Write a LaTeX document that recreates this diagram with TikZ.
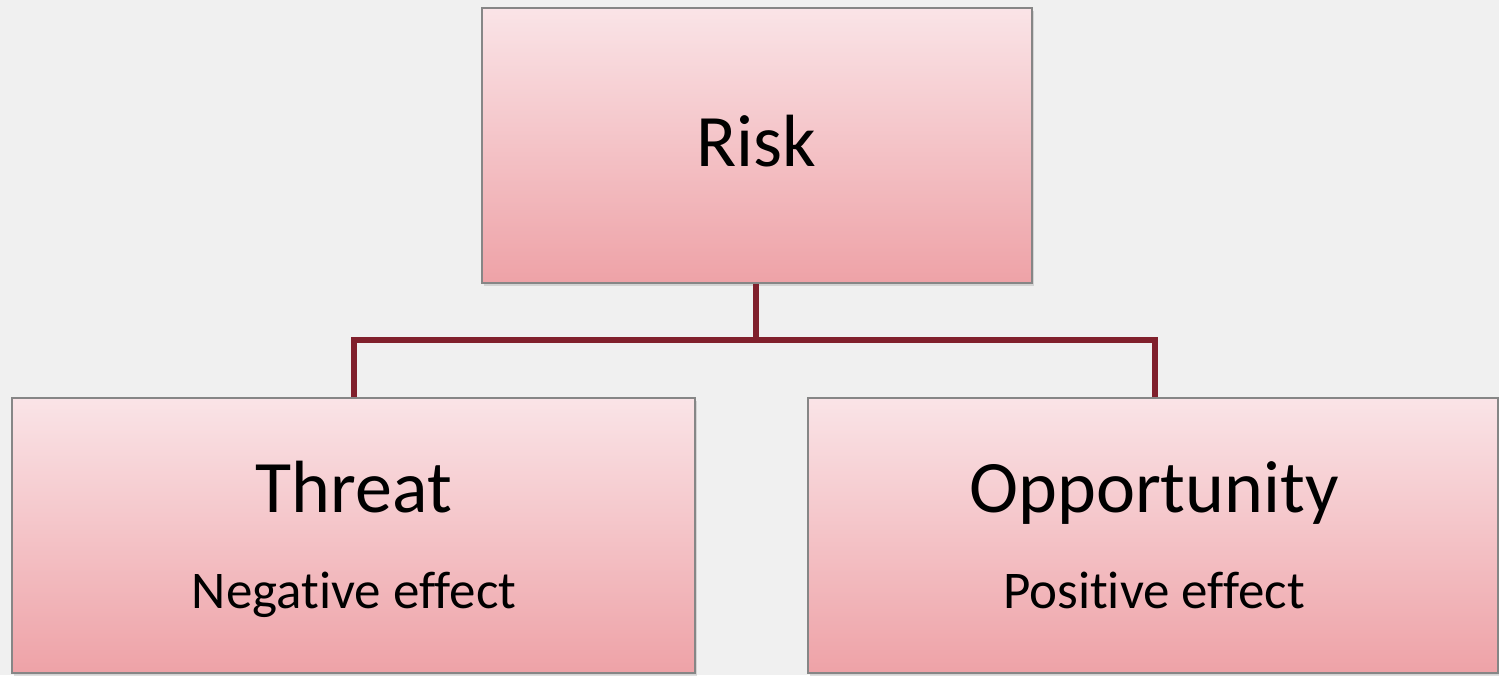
\documentclass[tikz,border=0pt]{standalone}
\usepackage{fontspec}
\setmainfont{Carlito}[Ligatures=NoCommon]
\usetikzlibrary{shadows}
\definecolor{bg}{HTML}{F0F0F0}
\definecolor{boxtop}{HTML}{FAE4E7}
\definecolor{boxbot}{HTML}{EEA2A7}
\definecolor{boxline}{HTML}{868686}
\definecolor{conn}{HTML}{80202C}
\tikzset{
  box/.style={draw=boxline, line width=1.8pt, top color=boxtop, bottom color=boxbot,
    rectangle, inner sep=0pt, anchor=north west,
    drop shadow={opacity=0.25, shadow xshift=2pt, shadow yshift=-3pt}},
  bigtext/.style={anchor=base, inner sep=0pt, font=\fontsize{74}{86}\selectfont},
  smalltext/.style={anchor=base, inner sep=0pt, font=\fontsize{53}{62}\selectfont},
  link/.style={draw=conn, line width=5.5pt}
}
\begin{document}
\begin{tikzpicture}[x=1pt,y=-1pt]
\fill[bg] (0,0) rectangle (1499,675);
\useasboundingbox (0,0) rectangle (1499,675);
\node[box, minimum width=550pt, minimum height=275pt] (risk) at (481,7) {};
\node[box, minimum width=683pt, minimum height=275pt] (threat) at (11,397) {};
\node[box, minimum width=690pt, minimum height=275pt] (opp) at (807,397) {};
\node[bigtext] (risklbl) at (756,166) {Risk};
\node[bigtext] (threatlbl) at (354,512) {Threat};
\node[smalltext] (neglbl) at (354,608) {Negative effect};
\node[bigtext] (opplbl) at (1154,512) {Opportunity};
\node[smalltext] (poslbl) at (1154,608) {Positive effect};
\coordinate (mid) at (756,340);
\draw[link] (risk.south -| mid) -- (mid);
\draw[link] (threat.north -| 354,0) |- (mid) -| (opp.north -| 1155,0);
\end{tikzpicture}
\end{document}
